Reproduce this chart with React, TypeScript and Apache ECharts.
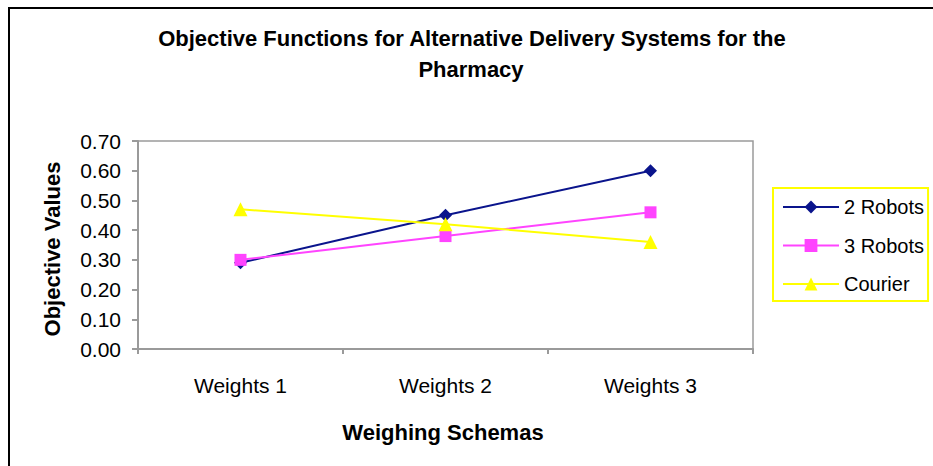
import React, { useEffect, useRef } from "react";
import * as echarts from "echarts";

const categories = ["Weights 1", "Weights 2", "Weights 3"];
const twoRobots = [0.29, 0.45, 0.6];
const threeRobots = [0.3, 0.38, 0.46];
const courier = [0.47, 0.42, 0.36];
const yTicks = { min: 0, max: 0.7, interval: 0.1 };

const FONT = "'Liberation Sans', Arial, sans-serif";
const AXIS_GRAY = "#9a9a9a";

export default function App() {
  const ref = useRef<HTMLDivElement>(null);

  useEffect(() => {
    document.body.style.margin = "0";
    const chart = echarts.init(ref.current!, null, { renderer: "svg" });
    chart.setOption({
      animation: false,
      backgroundColor: "#ffffff",
      textStyle: { fontFamily: FONT },
      graphic: [
        {
          type: "rect",
          shape: { x: 9, y: 8, width: 1000, height: 1000 },
          style: { fill: "none", stroke: "#000", lineWidth: 2 },
          silent: true,
        },
        {
          type: "text",
          x: 472,
          y: 38,
          style: {
            text: "Objective Functions for Alternative Delivery Systems for the",
            font: `bold 22px ${FONT}`,
            fill: "#000",
            align: "center",
            verticalAlign: "middle",
          },
        },
        {
          type: "text",
          x: 471,
          y: 69,
          style: {
            text: "Pharmacy",
            font: `bold 22px ${FONT}`,
            fill: "#000",
            align: "center",
            verticalAlign: "middle",
          },
        },
        {
          type: "text",
          x: 52,
          y: 249,
          rotation: Math.PI / 2,
          style: {
            text: "Objective Values",
            font: `bold 22px ${FONT}`,
            fill: "#000",
            align: "center",
            verticalAlign: "middle",
          },
        },
        {
          type: "text",
          x: 443,
          y: 432,
          style: {
            text: "Weighing Schemas",
            font: `bold 22px ${FONT}`,
            fill: "#000",
            align: "center",
            verticalAlign: "middle",
          },
        },
      ],
      legend: {
        orient: "vertical",
        left: 773,
        top: 188,
        padding: [9, 4, 7, 9],
        itemWidth: 56,
        itemHeight: 16,
        itemGap: 18.5,
        borderColor: "#ffff00",
        borderWidth: 2,
        textStyle: { fontSize: 20, color: "#000", fontFamily: FONT },
        data: ["2 Robots", "3 Robots", "Courier"],
      },
      grid: {
        left: 138,
        top: 141,
        width: 615,
        height: 208,
        show: true,
        borderColor: AXIS_GRAY,
        borderWidth: 1.5,
        containLabel: false,
      },
      xAxis: {
        type: "category",
        data: categories,
        boundaryGap: true,
        axisLine: { lineStyle: { color: AXIS_GRAY, width: 2 } },
        axisTick: { show: true, length: 5, lineStyle: { color: AXIS_GRAY, width: 2 } },
        axisLabel: { fontSize: 21, color: "#000", margin: 26, fontFamily: FONT },
        splitLine: { show: false },
      },
      yAxis: {
        type: "value",
        min: yTicks.min,
        max: yTicks.max,
        interval: yTicks.interval,
        axisLine: { show: true, lineStyle: { color: AXIS_GRAY, width: 2 } },
        axisTick: { show: true, length: 6, lineStyle: { color: AXIS_GRAY, width: 2 } },
        axisLabel: {
          fontSize: 21,
          color: "#000",
          margin: 17,
          fontFamily: FONT,
          formatter: (v: number) => v.toFixed(2),
        },
        splitLine: { show: false },
      },
      series: [
        {
          name: "2 Robots",
          type: "line",
          data: twoRobots,
          symbol: "diamond",
          symbolSize: 13,
          lineStyle: { color: "#0a148c", width: 2 },
          itemStyle: { color: "#0a148c" },
        },
        {
          name: "3 Robots",
          type: "line",
          data: threeRobots,
          symbol: "rect",
          symbolSize: 12,
          lineStyle: { color: "#ff44ff", width: 2 },
          itemStyle: { color: "#ff44ff" },
        },
        {
          name: "Courier",
          type: "line",
          data: courier,
          symbol: "triangle",
          symbolSize: 14,
          lineStyle: { color: "#ffff00", width: 2 },
          itemStyle: { color: "#ffff00" },
        },
      ],
    });
    return () => chart.dispose();
  }, []);

  return <div ref={ref} style={{ width: 933, height: 466 }} />;
}
